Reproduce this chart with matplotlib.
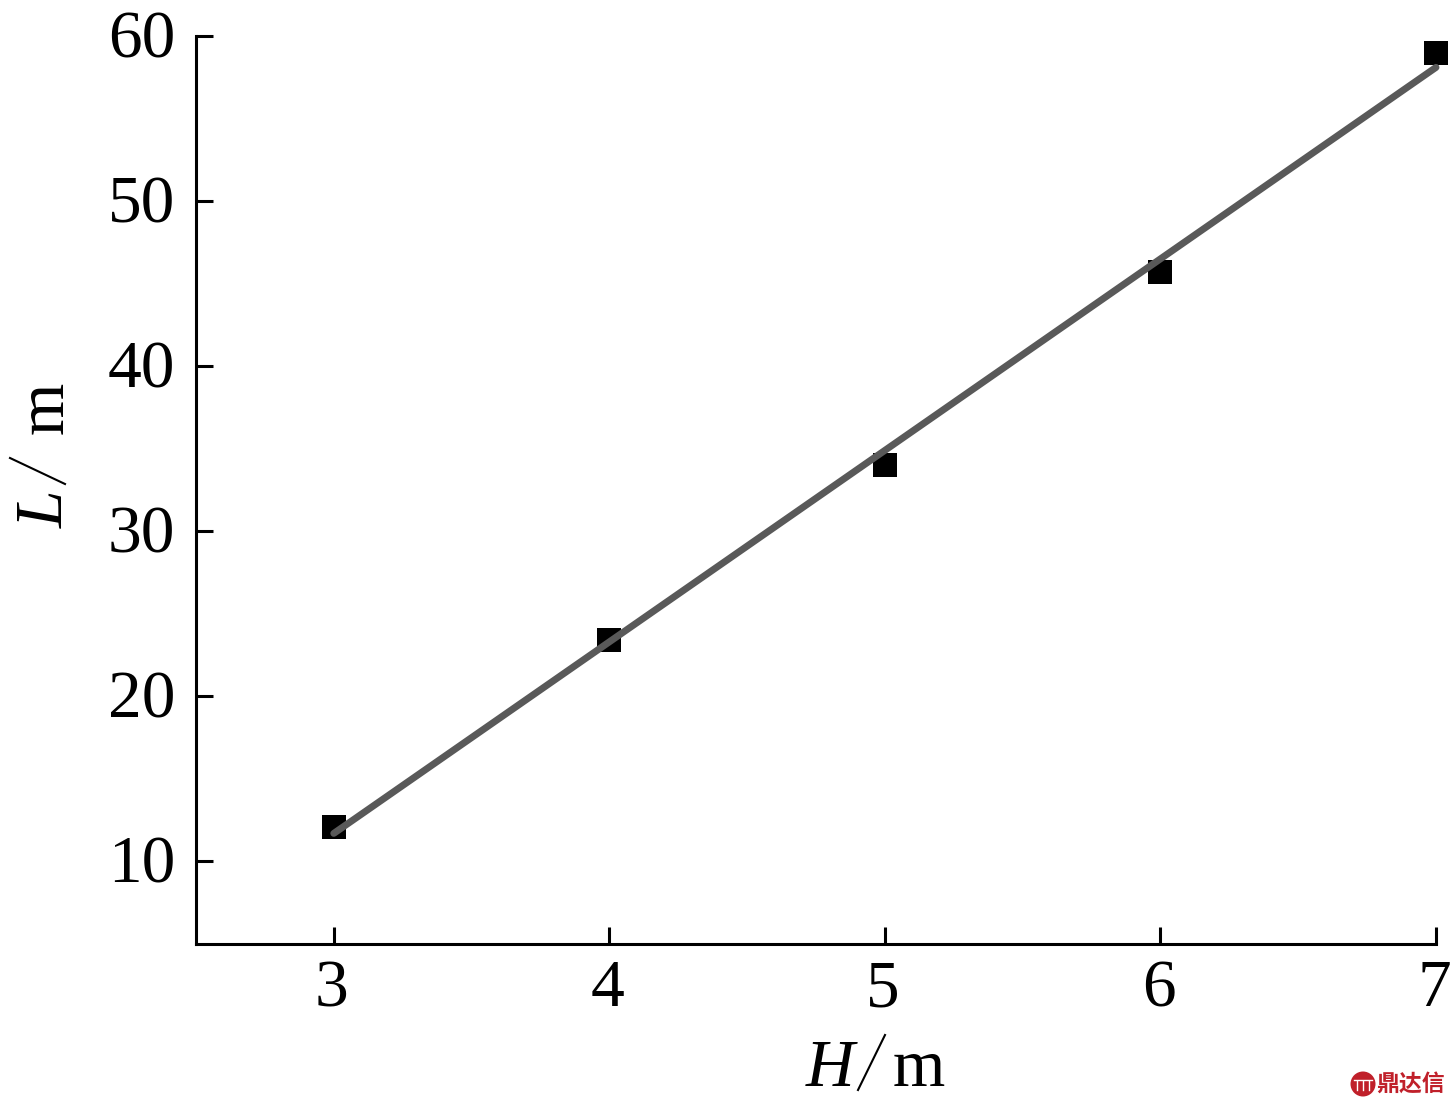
import matplotlib
matplotlib.use('Agg')
import matplotlib.pyplot as plt
import matplotlib.patches as patches

plt.rcParams['font.family'] = ['Liberation Serif', 'Noto Sans CJK SC']

H = [3, 4, 5, 6, 7]
L = [12.1, 23.4, 34.0, 45.7, 59.0]
fit_x = [3, 7]
fit_y = [11.7, 58.1]
x_ticks = [3, 4, 5, 6, 7]
y_ticks = [10, 20, 30, 40, 50, 60]

W, H_px = 1453, 1107
fig = plt.figure(figsize=(W / 100, H_px / 100), dpi=100)
ax = fig.add_axes([196 / W, 1 - 944 / H_px, (1436 - 196) / W, (944 - 36) / H_px])

ax.scatter(H, L, marker='s', s=290, color='black', linewidths=0, clip_on=False, zorder=2)
ax.plot(fit_x, fit_y, color='#595959', lw=5, solid_capstyle='round', clip_on=False, zorder=3)

ax.set_xlim(2.5, 7)
ax.set_ylim(5, 60)
ax.set_xticks(x_ticks)
ax.set_yticks(y_ticks)
ax.spines['top'].set_visible(False)
ax.spines['right'].set_visible(False)
ax.spines['left'].set_linewidth(2.2)
ax.spines['bottom'].set_linewidth(2.2)
ax.tick_params(direction='in', length=12, width=2.2, labelsize=48.5)
ax.tick_params(axis='y', pad=15)
ax.tick_params(axis='x', pad=11)
for t in ax.get_yticklabels():
    t.set_transform(t.get_transform() + matplotlib.transforms.ScaledTranslation(0, 2 / 100, fig.dpi_scale_trans))
for t in ax.get_xticklabels():
    t.set_transform(t.get_transform() + matplotlib.transforms.ScaledTranslation(-2 / 100, 0, fig.dpi_scale_trans))

fig.text(830 / W, 1 - 1086 / H_px, 'H', fontsize=48.5, style='italic', ha='center', va='baseline')
fig.text(919 / W, 1 - 1086 / H_px, 'm', fontsize=48.5, ha='center', va='baseline')
fig.add_artist(plt.Line2D([858 / W, 885 / W], [1 - 1090 / H_px, 1 - 1035 / H_px], color='black', lw=1.5))

fig.text(63 / W, 1 - 509 / H_px, 'L', fontsize=48.5, style='italic', rotation=90, ha='center', va='baseline', rotation_mode='anchor')
fig.text(63 / W, 1 - 408 / H_px, 'm', fontsize=48.5, rotation=90, ha='center', va='baseline', rotation_mode='anchor')
fig.add_artist(plt.Line2D([10 / W, 65 / W], [1 - 458 / H_px, 1 - 484 / H_px], color='black', lw=1.5))

# watermark
red = '#c0202a'
fig.add_artist(patches.Ellipse((1363 / W, 1 - 1084 / H_px), 25 / W, 25 / H_px, color=red, lw=0))
for dx in [-6, 0, 6]:
    fig.add_artist(plt.Line2D([(1363 + dx) / W, (1363 + dx) / W], [1 - 1081 / H_px, 1 - 1090 / H_px], color='white', lw=1))
fig.add_artist(plt.Line2D([1354 / W, 1372 / W], [1 - 1080 / H_px, 1 - 1080 / H_px], color='white', lw=1))
fig.text(1410.5 / W, 1 - 1084 / H_px, '鼎达信', fontsize=16.5, color=red, ha='center', va='center', fontweight='bold',
         family=['Noto Sans CJK SC'])

fig.savefig('out.png', dpi=100)
